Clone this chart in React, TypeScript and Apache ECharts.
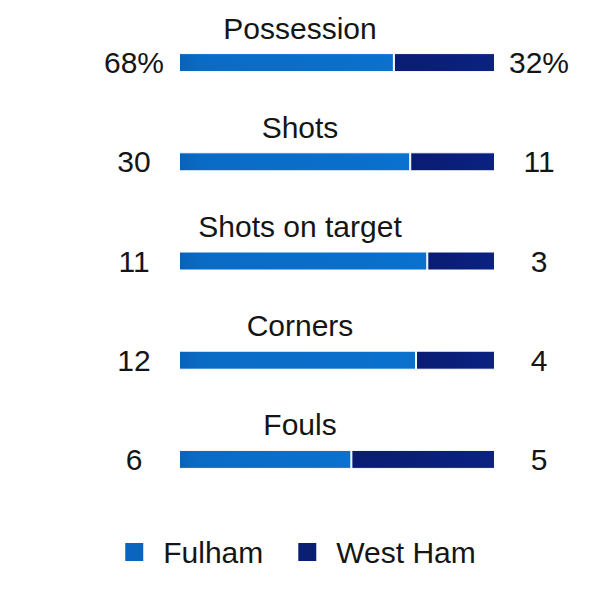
import { useEffect, useRef } from 'react'
import * as echarts from 'echarts'

// 数据
const categories = ['Possession', 'Shots', 'Shots on target', 'Corners', 'Fouls']
const fulham = [68, 30, 11, 12, 6]
const westHam = [32, 11, 3, 4, 5]
const units = ['%', '', '', '', '']
const teams = ['Fulham', 'West Ham']

const FONT = '"Liberation Sans", Arial, sans-serif'
const TEXT = '#151515'

function App(): JSX.Element {
  const chartRef = useRef<HTMLDivElement>(null)

  useEffect(() => {
    const myChart = echarts.init(chartRef.current, undefined, { renderer: 'svg' })

    // 每行按比例换算成 100%
    const totals = fulham.map((v, i) => v + westHam[i])
    const fulhamShare = fulham.map((v, i) => (v / totals[i]) * 100)
    const westHamShare = westHam.map((v, i) => (v / totals[i]) * 100)

    const fulhamColor = new echarts.graphic.LinearGradient(0, 0, 1, 0, [
      { offset: 0, color: '#0a62b8' },
      { offset: 0.1, color: '#0a6bc5' },
      { offset: 1, color: '#0a71ce' }
    ])
    const westHamColor = new echarts.graphic.LinearGradient(0, 0, 1, 0, [
      { offset: 0, color: '#0a1c72' },
      { offset: 1, color: '#0b2282' }
    ])

    const valueLabel = {
      fontSize: 30,
      color: TEXT,
      fontFamily: FONT,
      align: 'center' as const
    }

    const option: echarts.EChartsOption = {
      animation: false,
      textStyle: { fontFamily: FONT },
      grid: { left: 179, right: 104, top: 13, bottom: 85 },
      xAxis: {
        type: 'value',
        min: 0,
        max: 100,
        show: false
      },
      yAxis: [
        {
          type: 'category',
          data: categories,
          inverse: true,
          axisLine: { show: false },
          axisTick: { show: false },
          axisLabel: {
            ...valueLabel,
            margin: 45,
            formatter: (_v: string, i: number) => fulham[i] + units[i]
          }
        },
        {
          type: 'category',
          data: categories,
          inverse: true,
          position: 'right',
          axisLine: { show: false },
          axisTick: { show: false },
          axisLabel: {
            ...valueLabel,
            margin: 44,
            formatter: (_v: string, i: number) => westHam[i] + units[i]
          }
        }
      ],
      legend: {
        bottom: 22,
        left: 'center',
        itemWidth: 20,
        itemHeight: 20,
        itemGap: 33,
        icon: 'rect',
        textStyle: { fontSize: 30, color: TEXT, fontFamily: FONT, padding: [0, 0, 0, 14] },
        data: [
          { name: teams[0], itemStyle: { color: '#0a64c0' } },
          { name: teams[1], itemStyle: { color: '#0a1f72' } }
        ]
      },
      series: [
        {
          name: teams[0],
          type: 'bar',
          stack: 'all',
          barWidth: 19,
          data: fulhamShare,
          itemStyle: { color: fulhamColor, borderColor: '#ffffff', borderWidth: 1 },
          label: {
            show: true,
            position: [121, -25],
            align: 'center',
            verticalAlign: 'middle',
            fontSize: 30,
            color: TEXT,
            fontFamily: FONT,
            formatter: (p: any) => p.name
          }
        },
        {
          name: teams[1],
          type: 'bar',
          stack: 'all',
          barWidth: 19,
          data: westHamShare,
          itemStyle: { color: westHamColor, borderColor: '#ffffff', borderWidth: 1 }
        }
      ]
    }

    myChart.setOption(option)

    return () => {
      myChart.dispose()
    }
  }, [])

  return (
    <div
      ref={chartRef}
      style={{ position: 'fixed', left: 0, top: 0, width: '599px', height: '594px', background: '#fff' }}
    ></div>
  )
}

export default App
